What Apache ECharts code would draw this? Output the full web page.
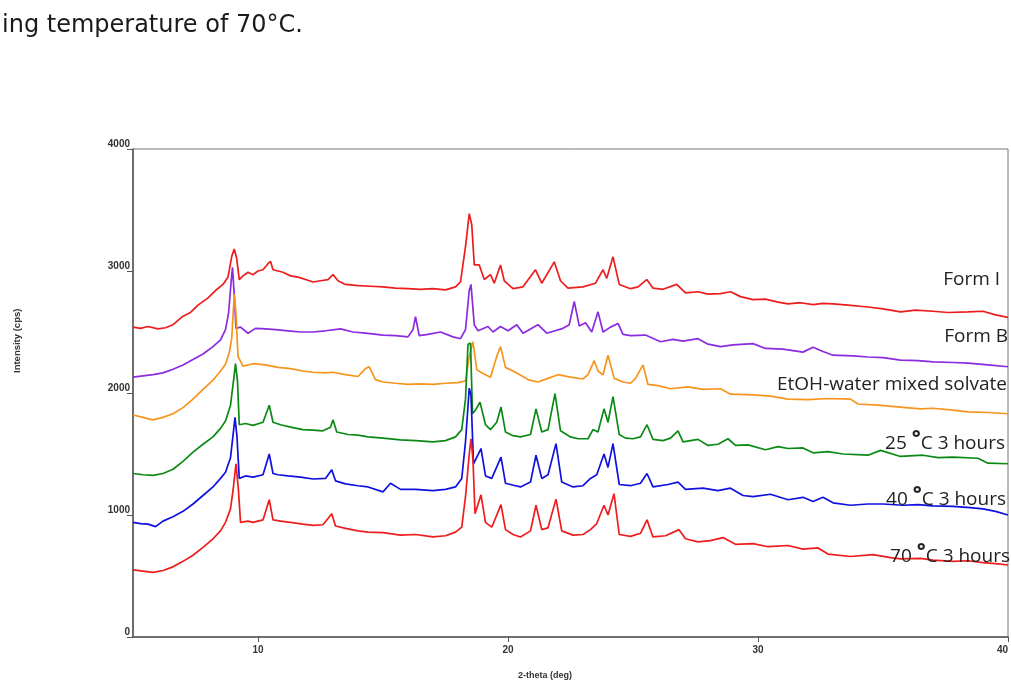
<!DOCTYPE html>
<html><head><meta charset="utf-8">
<script src="https://cdn.jsdelivr.net/npm/echarts@6/dist/echarts.min.js"></script>
<style>html,body{margin:0;padding:0;background:#fff;overflow:hidden}#c{width:1011px;height:683px}</style>
</head><body><div id="c"></div>
<script>
const xTicks = [10, 20, 30, 40];
const yTicks = [0, 1000, 2000, 3000, 4000];
const seriesNames = ['Form I', 'Form B', 'EtOH-water mixed solvate', '25 °C 3 hours', '40 °C 3 hours', '70 °C 3 hours'];

const formI = [[5.0,2540],[5.3,2530],[5.6,2545],[6.0,2525],[6.3,2535],[6.6,2560],[7.0,2630],[7.3,2660],[7.6,2720],[8.0,2780],[8.3,2840],[8.6,2890],[8.8,2950],[8.95,3120],[9.05,3180],[9.15,3100],[9.25,2930],[9.4,2960],[9.6,2990],[9.8,2970],[10.0,3000],[10.2,3010],[10.4,3060],[10.5,3080],[10.6,3010],[10.8,3000],[11.0,2990],[11.3,2960],[11.6,2950],[11.9,2930],[12.2,2910],[12.5,2920],[12.8,2930],[13.0,2970],[13.2,2920],[13.5,2890],[14.0,2880],[14.5,2875],[15.0,2870],[15.5,2860],[16.0,2855],[16.5,2850],[17.0,2855],[17.5,2845],[17.9,2870],[18.1,2910],[18.3,3200],[18.45,3470],[18.55,3380],[18.65,3050],[18.85,3050],[19.05,2930],[19.3,2970],[19.45,2900],[19.7,3050],[19.85,2920],[20.2,2855],[20.6,2870],[21.1,3010],[21.35,2900],[21.85,3075],[22.1,2920],[22.4,2860],[23.0,2870],[23.5,2900],[23.8,3010],[23.95,2940],[24.2,3116],[24.45,2890],[24.9,2855],[25.2,2870],[25.55,2930],[25.8,2860],[26.2,2850],[26.75,2890],[27.1,2820],[27.6,2830],[28.0,2810],[28.5,2815],[28.9,2830],[29.3,2790],[29.8,2765],[30.3,2770],[30.8,2745],[31.2,2730],[31.7,2740],[32.2,2725],[32.6,2735],[33.0,2730],[33.6,2720],[34.4,2705],[35.0,2690],[35.7,2665],[36.3,2680],[37.0,2670],[37.6,2660],[38.4,2665],[39.0,2670],[39.5,2640],[40.0,2620]];

const formB = [[5.0,2130],[5.4,2140],[5.8,2150],[6.2,2165],[6.6,2195],[7.0,2230],[7.4,2275],[7.8,2320],[8.2,2380],[8.5,2435],[8.7,2520],[8.82,2650],[8.92,2900],[8.98,3030],[9.05,2800],[9.12,2530],[9.3,2540],[9.6,2490],[9.9,2530],[10.3,2525],[10.7,2520],[11.2,2510],[11.7,2500],[12.2,2500],[12.7,2510],[13.3,2525],[13.8,2500],[14.3,2490],[15.0,2475],[15.5,2470],[16.0,2460],[16.2,2520],[16.3,2625],[16.45,2470],[16.8,2480],[17.3,2500],[17.8,2460],[18.1,2445],[18.3,2520],[18.45,2840],[18.52,2890],[18.65,2560],[18.8,2510],[19.2,2545],[19.4,2500],[19.7,2545],[20.0,2510],[20.35,2560],[20.6,2490],[21.2,2560],[21.55,2490],[22.2,2530],[22.45,2560],[22.65,2750],[22.85,2550],[23.1,2575],[23.35,2500],[23.6,2665],[23.8,2500],[24.1,2540],[24.4,2570],[24.6,2480],[24.9,2470],[25.5,2475],[26.1,2420],[26.6,2440],[27.0,2425],[27.6,2445],[28.0,2400],[28.5,2380],[29.0,2395],[29.8,2405],[30.3,2365],[31.0,2360],[31.8,2335],[32.2,2375],[32.6,2340],[33.0,2310],[33.8,2305],[34.4,2295],[35.0,2290],[35.7,2270],[36.4,2265],[37.0,2255],[37.8,2250],[38.4,2245],[39.2,2230],[40.0,2215]];

const etohWater = [[5.0,1820],[5.4,1800],[5.8,1780],[6.2,1800],[6.6,1830],[7.0,1880],[7.4,1950],[7.8,2030],[8.2,2105],[8.5,2180],[8.7,2235],[8.85,2330],[8.95,2450],[9.05,2810],[9.12,2650],[9.2,2300],[9.4,2220],[9.8,2240],[10.3,2230],[10.8,2210],[11.3,2200],[11.8,2180],[12.2,2170],[12.7,2165],[13.0,2170],[13.5,2150],[14.0,2135],[14.3,2200],[14.45,2215],[14.7,2110],[15.0,2090],[15.5,2080],[16.0,2070],[16.5,2075],[17.0,2070],[17.5,2080],[18.0,2085],[18.3,2100],[18.45,2300],[18.6,2420],[18.75,2190],[19.0,2160],[19.3,2130],[19.55,2300],[19.7,2380],[19.9,2210],[20.3,2170],[20.8,2110],[21.2,2090],[21.6,2120],[22.0,2150],[22.5,2130],[23.0,2115],[23.2,2150],[23.45,2265],[23.6,2180],[23.8,2150],[24.0,2310],[24.25,2120],[24.6,2090],[24.9,2080],[25.1,2120],[25.4,2230],[25.6,2070],[26.0,2060],[26.5,2035],[27.2,2050],[27.8,2030],[28.5,2035],[28.9,1990],[29.8,1985],[30.5,1975],[31.2,1950],[32.0,1945],[32.8,1955],[33.7,1950],[34.0,1910],[34.8,1900],[35.7,1885],[36.5,1870],[37.0,1875],[37.8,1860],[38.4,1845],[39.2,1840],[40.0,1830]];

const c25 = [[5.0,1340],[5.4,1330],[5.8,1325],[6.2,1340],[6.6,1375],[7.0,1440],[7.4,1515],[7.8,1580],[8.2,1640],[8.5,1710],[8.7,1770],[8.9,1900],[9.02,2100],[9.1,2240],[9.18,2100],[9.25,1740],[9.5,1750],[9.8,1735],[10.2,1760],[10.45,1900],[10.6,1760],[10.9,1740],[11.3,1720],[11.8,1700],[12.2,1695],[12.6,1690],[12.9,1720],[13.0,1780],[13.15,1680],[13.6,1660],[14.0,1655],[14.4,1640],[15.0,1630],[15.7,1615],[16.3,1610],[17.0,1600],[17.5,1610],[17.9,1640],[18.15,1700],[18.3,1950],[18.4,2400],[18.5,2410],[18.58,1830],[18.7,1860],[18.88,1925],[19.1,1740],[19.3,1700],[19.55,1760],[19.72,1885],[19.9,1680],[20.2,1650],[20.5,1640],[20.9,1660],[21.12,1870],[21.35,1680],[21.6,1700],[21.88,1995],[22.1,1690],[22.5,1640],[22.8,1625],[23.2,1625],[23.4,1700],[23.6,1680],[23.84,1870],[24.0,1760],[24.2,1970],[24.45,1660],[24.7,1630],[25.0,1625],[25.3,1640],[25.56,1740],[25.8,1620],[26.2,1610],[26.5,1630],[26.8,1690],[27.0,1600],[27.6,1620],[28.0,1570],[28.4,1580],[28.8,1625],[29.1,1570],[29.6,1575],[30.3,1535],[30.8,1560],[31.2,1545],[31.8,1550],[32.2,1510],[32.8,1520],[33.4,1500],[34.4,1490],[34.9,1530],[35.7,1480],[36.6,1490],[37.2,1470],[37.8,1475],[38.8,1465],[39.2,1425],[40.0,1420]];

const c40 = [[5.0,940],[5.3,930],[5.6,925],[5.9,905],[6.2,950],[6.6,985],[7.0,1030],[7.4,1090],[7.8,1160],[8.2,1230],[8.5,1300],[8.7,1350],[8.9,1470],[9.0,1650],[9.08,1800],[9.16,1640],[9.25,1300],[9.5,1320],[9.8,1310],[10.2,1330],[10.45,1500],[10.6,1340],[10.8,1330],[11.2,1320],[11.7,1310],[12.2,1295],[12.7,1300],[12.95,1370],[13.1,1280],[13.5,1255],[14.0,1240],[14.4,1230],[15.0,1190],[15.3,1260],[15.7,1210],[16.3,1210],[17.0,1200],[17.5,1210],[17.9,1230],[18.15,1300],[18.3,1600],[18.45,2040],[18.52,1980],[18.62,1420],[18.92,1545],[19.1,1320],[19.35,1300],[19.72,1475],[19.9,1260],[20.3,1240],[20.5,1230],[20.9,1270],[21.12,1490],[21.35,1300],[21.6,1330],[21.92,1585],[22.15,1270],[22.6,1230],[23.0,1240],[23.3,1300],[23.55,1330],[23.84,1500],[24.0,1390],[24.2,1585],[24.45,1250],[24.9,1240],[25.3,1260],[25.56,1340],[25.8,1230],[26.4,1250],[26.8,1270],[27.1,1210],[27.8,1220],[28.4,1200],[28.9,1220],[29.4,1160],[29.8,1150],[30.5,1170],[31.2,1125],[31.8,1145],[32.2,1110],[32.6,1145],[33.0,1100],[33.7,1080],[34.4,1090],[35.0,1090],[35.8,1080],[36.4,1085],[37.0,1075],[37.8,1070],[38.5,1060],[39.0,1050],[39.5,1030],[40.0,1000]];

const c70 = [[5.0,550],[5.4,540],[5.8,530],[6.2,545],[6.6,575],[7.0,620],[7.4,670],[7.8,735],[8.2,805],[8.5,870],[8.7,940],[8.9,1050],[9.0,1200],[9.12,1420],[9.22,1200],[9.3,940],[9.6,950],[9.8,940],[10.2,960],[10.45,1125],[10.6,960],[10.9,950],[11.3,940],[11.8,925],[12.2,915],[12.6,920],[12.95,1010],[13.1,910],[13.5,890],[14.0,870],[14.4,860],[15.0,855],[15.7,835],[16.3,840],[17.0,820],[17.5,830],[17.9,860],[18.15,900],[18.3,1150],[18.45,1500],[18.52,1625],[18.6,1450],[18.68,1010],[18.92,1165],[19.1,940],[19.35,900],[19.72,1085],[19.9,880],[20.2,840],[20.5,820],[20.9,870],[21.12,1080],[21.35,880],[21.6,895],[21.92,1130],[22.15,870],[22.6,835],[23.0,840],[23.3,880],[23.55,930],[23.84,1080],[24.0,1000],[24.24,1175],[24.45,840],[24.9,825],[25.3,850],[25.56,960],[25.8,820],[26.3,830],[26.84,880],[27.1,805],[27.6,780],[28.1,790],[28.6,815],[29.1,760],[29.8,765],[30.4,740],[31.2,750],[31.8,720],[32.4,730],[32.8,680],[33.7,660],[34.6,675],[35.3,650],[35.7,640],[36.5,645],[37.0,630],[37.8,620],[38.4,625],[39.0,610],[39.6,600],[40.0,590]];

const allData = [formI, formB, etohWater, c25, c40, c70];
const colors = ['#ee1c1c', '#8a2be2', '#f7941d', '#0a8a14', '#1010e0', '#ee1c1c'];

const chart = echarts.init(document.getElementById('c'), null, {renderer: 'canvas'});
const axisFont = {fontFamily: 'Liberation Sans, Arial, sans-serif', fontWeight: 'bold', fontSize: 10, color: '#333'};

const labelTop = [283, 340, 388, 442, 498, 555];
const labelGraphics = seriesNames.map((name, i) => {
  const parts = name.split('°');
  const rich = parts.length > 1
    ? {text: '{a|' + parts[0] + '}{d|°}{a|' + parts[1] + '}',
       rich: {a: {fontSize: 19, fontFamily: 'Open Sans, sans-serif', fill: '#222'},
              d: {fontSize: 21, fontWeight: 'bold', fontFamily: 'Open Sans, sans-serif', fill: '#222', verticalAlign: 'top', padding: [0, 0, 8, 0]}}}
    : {text: name};
  return {
    type: 'text', right: [11, 3, 4, 6, 5, 1][i], top: labelTop[i] - 13, z: 100,
    style: Object.assign({fontSize: 19, fontFamily: 'Open Sans, sans-serif', fill: '#222'}, rich)
  };
});

chart.setOption({
  animation: false,
  grid: {left: 133, right: 3, top: 149, bottom: 46, show: true, borderColor: '#777', borderWidth: 1,
         containLabel: false, outerBoundsMode: 'none'},
  xAxis: {
    type: 'value', min: 5, max: 40,
    axisLine: {show: true, onZero: false, lineStyle: {color: '#555', width: 1.5}},
    axisTick: {show: true, length: 5, customValues: xTicks, lineStyle: {color: '#555'}},
    axisLabel: Object.assign({customValues: xTicks, margin: 8, hideOverlap: false, alignMaxLabel: 'right'}, axisFont),
    splitLine: {show: false}
  },
  yAxis: {
    type: 'value', min: 0, max: 4000, interval: 1000,
    axisLine: {show: true, lineStyle: {color: '#555', width: 1.5}},
    axisTick: {show: true, length: 6, lineStyle: {color: '#555'}},
    axisLabel: Object.assign({margin: 3, verticalAlign: 'bottom', formatter: v => String(v)}, axisFont),
    splitLine: {show: false}
  },
  graphic: [
    {type: 'text', left: 2, top: 14, style: {text: 'ing temperature of 70°C.', fontSize: 24, fontFamily: 'DejaVu Sans, sans-serif', fill: '#1a1a1a'}},
    {type: 'text', x: 12, y: 373, rotation: Math.PI / 2, style: {text: 'Intensity (cps)', fontSize: 9.5, fontFamily: 'Liberation Sans, Arial, sans-serif', fontWeight: 'bold', fill: '#333'}},
    {type: 'text', left: 518, top: 671, style: {text: '2-theta (deg)', fontSize: 9, fontFamily: 'Liberation Sans, Arial, sans-serif', fontWeight: 'bold', fill: '#333'}}
  ].concat(labelGraphics),
  series: allData.map((d, i) => ({
    name: seriesNames[i], type: 'line', data: d, showSymbol: false, symbol: 'none',
    lineStyle: {color: colors[i], width: 1.7}, z: 2 + i
  }))
});
</script></body></html>
